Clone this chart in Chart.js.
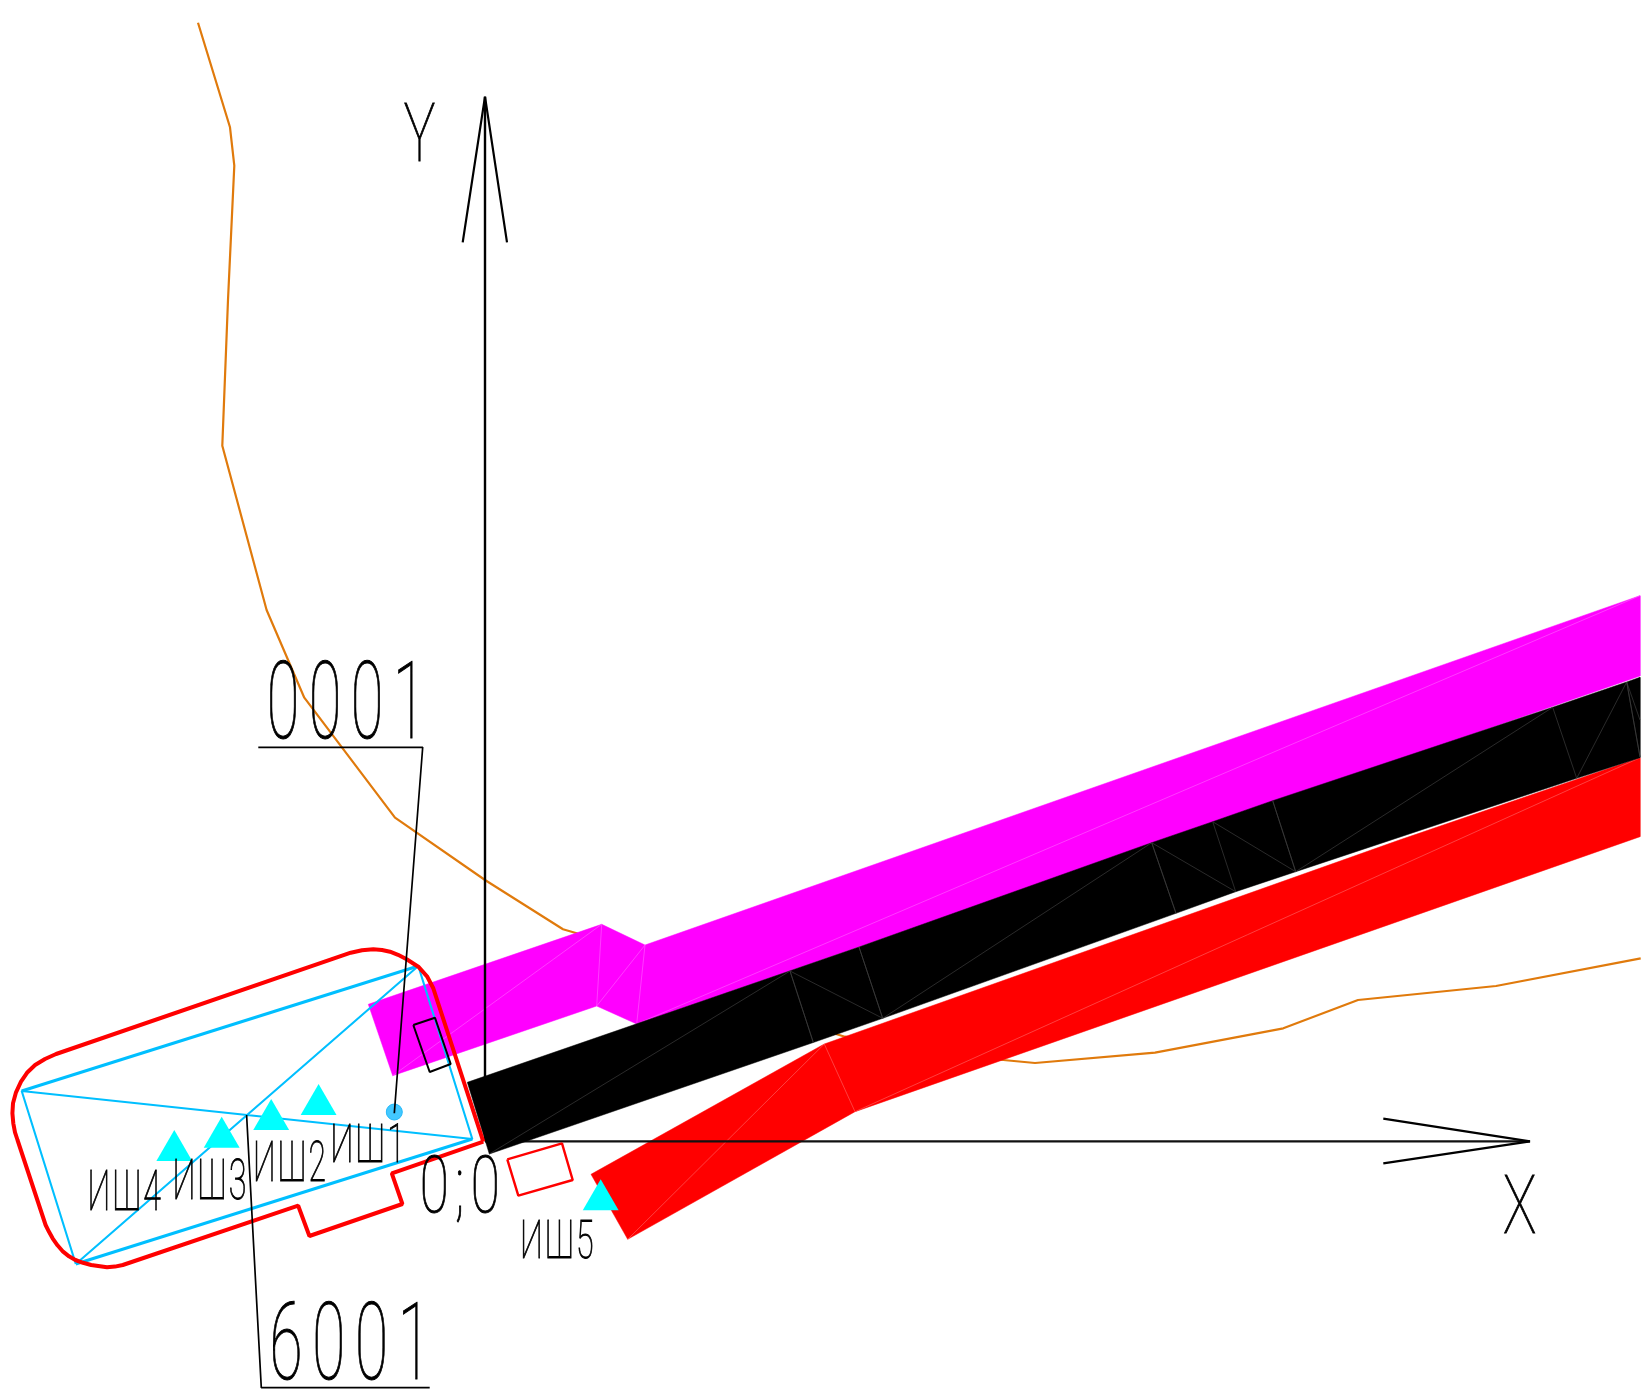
<!DOCTYPE html>
<html>
<head>
<meta charset="utf-8">
<title>Схема</title>
<script src="https://cdn.jsdelivr.net/npm/chart.js@4/dist/chart.umd.min.js"></script>
<style>
  html, body { margin: 0; padding: 0; background: #fff; }
  canvas { display: block; }
</style>
</head>
<body>
<canvas id="myChart" width="1651" height="1398"></canvas>
<script>
// Plan drawing, all values in drawing units measured from the 0;0 point

const contourLine = [[-287,1118.6],[-255,1014],[-250.7,975.6],[-257,841.3],[-262.7,695.6],[-218.4,531.3],[-180.7,443.6],[-90,323.6],[0,261.3],[78,212],[91.7,208],[351.7,107],[360,104.6],[518.3,81.3],[550,78.3],[670,88.6],[798.3,113],[873,141.3],[1011,155.3],[1155.7,183]];

const magentaBand = [[-116.7,137],[116.7,217],[160,196.3],[1155,545.6],[1155,465.3],[151.7,117.3],[111.7,135.3],[-92.3,65.6],[-116.7,137]];
const magentaMesh = [[-92.3,65.6],[116.7,217],[111.7,135.3],[160,196.3],[151.7,117.3],[1155,545.6]];

const redBand = [[106,-33],[339.3,97.3],[915,301.5],[1155,383.6],[1155,304.6],[370,29.6],[142.7,-98],[106,-33]];
const redMesh = [[142.7,-98],[339.3,97.3],[370,29.6],[1155,383.6]];

const blackBand = [[-17.7,59],[374,194.3],[666.7,298.6],[727.7,319.6],[787.7,340.6],[1067.7,434],[1141.7,459.3],[1155,464],[1155,383.6],[1091.7,363],[810.7,269.6],[750.7,249.6],[691,228],[397.7,123],[328.3,98.8],[4.3,-12.7],[-17.7,59]];
const blackMesh = [[4.3,-12.7],[305,170.3],[328.3,98.8],[305,170.3],[397.7,123],[374,194.3],[397.7,123],[666.7,298.6],[691,228],[666.7,298.6],[750.7,249.6],[727.7,319.6],[810.7,269.6],[787.7,340.6],[810.7,269.6],[1067.7,434],[1091.7,363],[1141.7,459.3],[1155,384.3],[1141.7,459.3],[1155,421.3]];

const siteBoundary = [[-1.7,-0.4],[-51.7,153],[-58,165],[-66.7,174.6],[-78.3,182],[-87,186.5],[-95,189.6],[-103,191.3],[-111.7,192],[-123,191],[-134.2,188.6],[-428.9,87.3],[-440,82.3],[-449.9,76.3],[-458,68.5],[-464,59.6],[-469,49],[-472,38],[-472.6,28],[-471.7,18],[-470,9],[-467.5,1.3],[-439.4,-83.7],[-436,-90.5],[-432.4,-97],[-427.5,-104],[-421.9,-110.4],[-416,-115],[-409.6,-118.7],[-402,-121.5],[-393.8,-123.7],[-378,-126],[-370,-125.3],[-362.2,-123.7],[-186.8,-64.4],[-175.6,-94.7],[-82.6,-62.7],[-93.2,-32],[-1.7,-0.4]];

const sourceTop = [[-463.3,50.3],[-66.7,175.3]];
const sourceBottom = [[-12.7,2.3],[-409.2,-122.7]];
const sourceCross = [[-409.2,-122.7],[-463.3,50.3],[-12.7,2.3],[-66.7,175.3],[-409.2,-122.7]];

const yAxisLine = [[0,0],[0,1044.6]];
const yAxisHead = [[-22.3,899],[0,1044.6],[22,899]];
const xAxisLine = [[0,0],[1045,0]];
const xAxisHead = [[898.3,22.6],[1045,0],[898.3,-22]];

const leader0001 = [[-226.7,394],[-62.3,394],[-90.7,28]];
const leader6001 = [[-238.4,26.3],[-223.7,-246.4],[-55.3,-246.4]];
const blackRect = [[-71.7,116.3],[-50,123.6],[-34.3,77.3],[-55.3,69.3],[-71.7,116.3]];
const redRect = [[22.3,-18],[77,-2],[87.7,-38.7],[33.3,-54.4],[22.3,-18]];

const source0001 = [[-90.7,29.3]];
const shafts = [[-166.4,36.6],[-213.8,21.6],[-263.3,3.9],[-310.7,-9.4],[115.7,-58.7]];

const labelTexts = ['Y', 'X', '0001', '6001', 'ИШ1', 'ИШ2', 'ИШ3', 'ИШ4', 'ИШ5', '0;0'];
const labelX = [-80.7, 1019.3, -215, -212, -151.7, -229, -309.6, -394.5, 38, -62.7];
const labelY = [980.3, -92, 403, -237.7, -21, -39.7, -57.7, -68.7, -116.4, -70.4];
const labelW = [30, 31, 142.3, 144.5, 64.7, 68.5, 69.5, 70.2, 69, 74.3];
const labelH = [57.7, 57.6, 76.6, 76.3, 38.5, 39.3, 39.7, 39.3, 38.4, 56.7];
const labelGap = [0, 0, 0.16, 0.16, 0.06, 0.06, 0.06, 0.06, 0.06, 0.12];

function pts(list) {
  return list.map((p) => ({ x: p[0], y: p[1] }));
}
function line(list, color, width) {
  return { data: pts(list), showLine: true, fill: false, borderColor: color, borderWidth: width, borderJoinStyle: 'bevel', pointRadius: 0, tension: 0 };
}
function area(list, color) {
  return { data: pts(list), showLine: true, fill: 'shape', backgroundColor: color, borderColor: color, borderWidth: 0.5, pointRadius: 0, tension: 0 };
}

const orange = '#e07a0c';
const red = '#ff0000';
const blue = '#00bfff';

// listed bottom to top, chart.js paints the first dataset last so it gets reversed below
const layers = [
  line(contourLine, orange, 2.2),
  area(magentaBand, '#ff00ff'),
  line(magentaMesh, '#ff55ff', 0.7),
  area(redBand, red),
  line(redMesh, '#ff5a5a', 0.7),
  line(yAxisLine, '#000', 2.4),
  line(yAxisHead, '#000', 2.2),
  line(xAxisLine, '#111', 2.2),
  line(xAxisHead, '#000', 2.2),
  area(blackBand, '#000'),
  line(blackMesh, '#3c3c3c', 0.7),
  line(sourceCross, blue, 2.1),
  line(sourceTop, blue, 3),
  line(sourceBottom, blue, 3),
  line(siteBoundary, red, 4),
  line(redRect, red, 2.4),
  line(blackRect, '#000', 2),
  { data: pts(shafts), showLine: false, pointStyle: 'triangle', pointRadius: 20.7, backgroundColor: '#00ffff', borderColor: '#00ffff', borderWidth: 0 },
  { data: pts(source0001), showLine: false, pointStyle: 'circle', pointRadius: 8, backgroundColor: '#42c8ff', borderColor: '#25b8f8', borderWidth: 1 },
  line(leader0001, '#000', 1.7),
  line(leader6001, '#000', 1.7),
];

const labelPlugin = {
  id: 'labelPlugin',
  afterDatasetsDraw(chart) {
    const ctx = chart.ctx;
    const sx = chart.scales.x;
    const sy = chart.scales.y;
    labelTexts.forEach((text, i) => {
      const left = sx.getPixelForValue(labelX[i]);
      const base = sy.getPixelForValue(labelY[i]);
      const size = labelH[i] / 0.711;
      ctx.save();
      ctx.font = '100 ' + size + 'px Roboto';
      ctx.letterSpacing = (labelGap[i] * size) + 'px';
      ctx.fillStyle = '#000';
      ctx.strokeStyle = '#000';
      ctx.lineWidth = 1;
      ctx.textBaseline = 'alphabetic';
      const m = ctx.measureText(text);
      const inkWidth = m.actualBoundingBoxRight + m.actualBoundingBoxLeft;
      ctx.translate(left, base);
      ctx.scale(labelW[i] / inkWidth, 1);
      ctx.fillText(text, m.actualBoundingBoxLeft, 0);
      ctx.strokeText(text, m.actualBoundingBoxLeft, 0);
      ctx.restore();
    });
  },
};

const config = {
  type: 'scatter',
  data: { datasets: layers.slice().reverse() },
  options: {
    responsive: false,
    animation: false,
    events: [],
    devicePixelRatio: 1,
    layout: { padding: 0, autoPadding: false },
    scales: {
      x: { type: 'linear', display: false, min: -485, max: 1166 },
      y: { type: 'linear', display: false, min: -256.7, max: 1141.3 },
    },
    plugins: {
      legend: { display: false },
      tooltip: { enabled: false },
      filler: { drawTime: 'beforeDatasetDraw' },
    },
  },
  plugins: [labelPlugin],
};

var myChart = new Chart(document.getElementById('myChart'), config);
</script>
</body>
</html>
